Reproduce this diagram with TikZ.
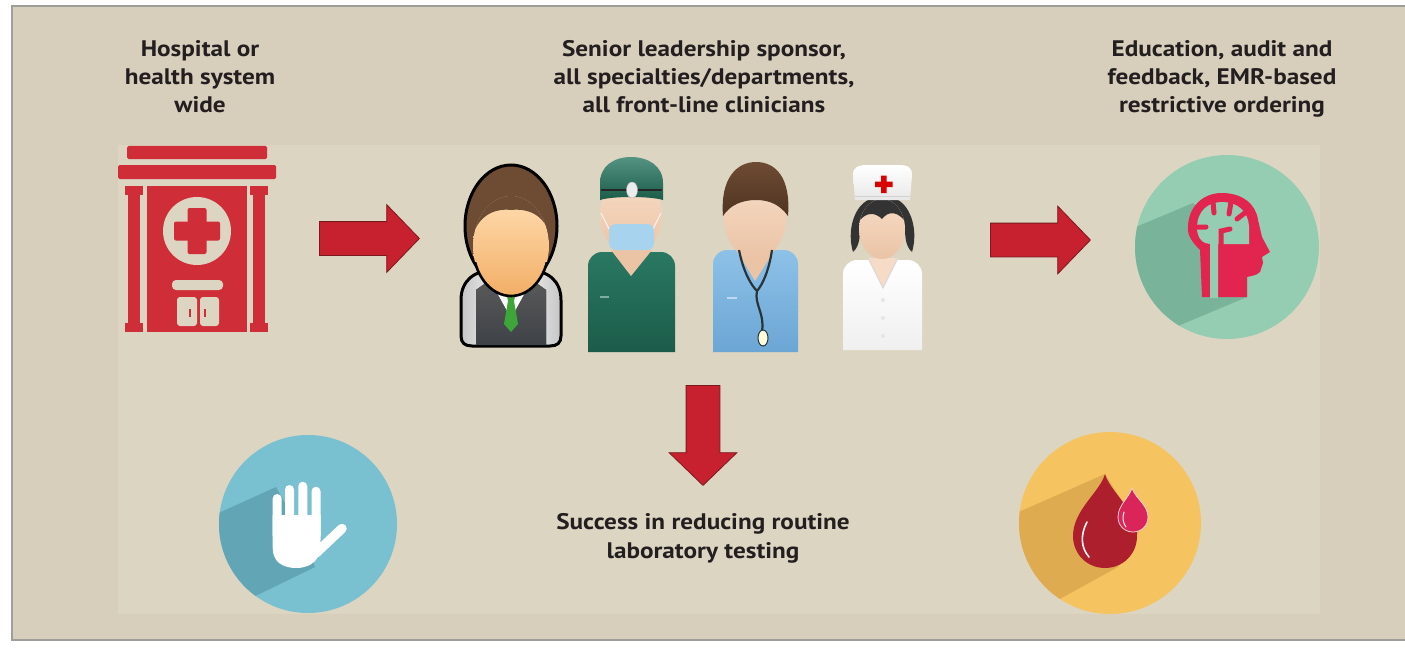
\documentclass[tikz,border=0pt]{standalone}
\usepackage{fontspec}
\setmainfont[FakeStretch=1.12]{PT Sans}
\usetikzlibrary{shapes.arrows}

\definecolor{bgout}{HTML}{D7CEBB}
\definecolor{bgin}{HTML}{DCD5C2}
\definecolor{framegray}{HTML}{9E9E98}
\definecolor{ink}{HTML}{231F20}
\definecolor{arrowred}{HTML}{C7202F}
\definecolor{arrowedge}{HTML}{7A1A1E}
\definecolor{hosp}{HTML}{CF2D37}
\definecolor{mint}{HTML}{95CDB3}
\definecolor{mintshade}{HTML}{79B39A}
\definecolor{headpink}{HTML}{E1254F}
\definecolor{skyblue}{HTML}{79C0D0}
\definecolor{skyshade}{HTML}{62A6B6}
\definecolor{sun}{HTML}{F5C35F}
\definecolor{sunshade}{HTML}{DFAB51}
\definecolor{dropdark}{HTML}{AE1F2D}
\definecolor{droppink}{HTML}{D9255A}
\definecolor{skinA}{HTML}{FFDDB0}
\definecolor{skinB}{HTML}{F2AE66}
\definecolor{skinC}{HTML}{F6DCC6}
\definecolor{skinD}{HTML}{EBC3A5}
\definecolor{hairbrown}{HTML}{6E4B33}
\definecolor{hairdark}{HTML}{4F3422}
\definecolor{scrubA}{HTML}{2A7862}
\definecolor{scrubB}{HTML}{1B5C49}
\definecolor{coatA}{HTML}{8DC1E7}
\definecolor{coatB}{HTML}{6CA6D5}
\definecolor{maskblue}{HTML}{A8D3EE}
\definecolor{steth}{HTML}{27343A}
\definecolor{vest}{HTML}{3E4247}
\definecolor{tiegreen}{HTML}{3EA53A}

\tikzset{
  lbl/.style={font=\bfseries\fontsize{22.5}{28.3}\selectfont, text=ink,
    align=center, inner sep=0pt, anchor=base},
  bigarrow/.style={single arrow, fill=arrowred, draw=arrowedge, line width=0.8pt,
    inner xsep=0pt, inner ysep=16.5pt, single arrow head extend=17pt,
    single arrow tip angle=92, single arrow head indent=0pt,
    minimum height=100pt, anchor=tail},
  downarrow/.style={bigarrow, shape border rotate=270, inner xsep=16.5pt, inner ysep=0pt},
  hospfill/.style={fill=hosp},
  tanfill/.style={fill=bgin},
}

\begin{document}
\begin{tikzpicture}[x=1pt,y=-1pt]
\useasboundingbox (0,0) rectangle (1405,650);
\fill[white] (0,0) rectangle (1405,650);
\clip (0,0) rectangle (1405,650);

% panel
\filldraw[fill=bgout, draw=framegray, line width=2pt] (12,6) rectangle (1425,640);
\fill[bgin] (118,145) rectangle (1320,614);

% ---- captions (anchored at the baseline of the last line)
\node[lbl] (tHosp) at (200,113) {Hospital or\\health system\\wide};
\node[lbl] (tStaff) at (704,113) {Senior leadership sponsor,\\all specialties/departments,\\all front-line clinicians};
\node[lbl] (tTools) at (1222,113) {Education, audit and\\feedback, EMR-based\\restrictive ordering};
\node[lbl] (tResult) at (703,558) {Success in reducing routine\\laboratory testing};

% ---- hospital building
\begin{scope}
\fill[hospfill, rounded corners=1.5pt] (127,146) rectangle (267,159);
\fill[hospfill, rounded corners=1.5pt] (118,165) rectangle (276,179);
\fill[hospfill] (125,186) rectangle (143,195);
\fill[hospfill] (128,186) rectangle (140,332);
\fill[hospfill] (125,323) rectangle (143,332);
\fill[hospfill] (250,186) rectangle (268,195);
\fill[hospfill] (253,186) rectangle (265,332);
\fill[hospfill] (250,323) rectangle (268,332);
\fill[hospfill] (147,186) rectangle (247,332);
\fill[tanfill] (197,231) circle (34);
\fill[hospfill, rounded corners=2pt] (187.5,208) rectangle (206.5,254);
\fill[hospfill, rounded corners=2pt] (174,221.5) rectangle (220,240.5);
\fill[tanfill, rounded corners=4pt] (172,280) rectangle (223,290);
\fill[tanfill, rounded corners=3pt] (177,297) rectangle (197,326);
\fill[tanfill, rounded corners=3pt] (200,297) rectangle (219,326);
\draw[hosp, line width=1.6pt] (190,309) -- (190,317) (205,309) -- (205,317);
\end{scope}
\node[inner sep=0pt, minimum width=158pt, minimum height=186pt] (hospital) at (197,239) {};

% ---- staff: manager
\begin{scope}
\path[draw=black, line width=3pt, left color=gray!45, right color=gray!45, middle color=white]
  (461,336) -- (461,300) .. controls (461,280) and (475,270) .. (495,270) -- (527,270)
  .. controls (547,270) and (561,280) .. (561,300) -- (561,336)
  .. controls (561,343) and (557,346) .. (550,346) -- (472,346)
  .. controls (465,346) and (461,343) .. (461,336) -- cycle;
\fill[top color=gray!70!black, bottom color=vest] (476,345) -- (476,290) -- (490,280) -- (511,318) -- (532,280) -- (546,290) -- (546,345) -- cycle;
\fill[white] (490,280) -- (511,318) -- (532,280) -- cycle;
\fill[tiegreen] (506,292) -- (516,292) -- (514,301) -- (508,301) -- cycle;
\fill[tiegreen] (508,301) -- (514,301) -- (518,324) -- (511,332) -- (504,324) -- cycle;
\filldraw[draw=black, line width=3pt, fill=hairbrown] (511,226) ellipse (46 and 61);
\fill[top color=skinA, bottom color=skinB] (511,246) ellipse (38 and 50);
\begin{scope}
  \clip (511,246) ellipse (38 and 50);
  \fill[hairbrown] (471,244) .. controls (475,216) and (494,208) .. (511,210)
    .. controls (530,208) and (548,216) .. (552,244) -- (552,190) -- (471,190) -- cycle;
\end{scope}
\begin{scope}
  \clip (440,262) rectangle (580,320);
  \draw[black, line width=2.6pt] (511,246) ellipse (38 and 50);
\end{scope}
\end{scope}
\node[inner sep=0pt, minimum width=104pt, minimum height=184pt] (manager) at (511,255) {};

% ---- staff: surgeon
\begin{scope}
\shade[top color=scrubA, bottom color=scrubB] (588,352) -- (588,266) [rounded corners=14pt] -- (588,252) -- (675,252) [sharp corners] -- (675,266) -- (675,352) -- cycle;
\fill[skinD] (611,250) -- (631,276) -- (652,250) -- cycle;
\draw[scrubA!60!white, line width=1.5pt] (600,297) -- (609,297);
\shade[top color=skinC, bottom color=skinD] (631,215) ellipse (31 and 40);
\draw[white!92!gray, line width=1pt] (609,229) -- (601,213) (653,229) -- (661,213);
\fill[maskblue, rounded corners=7pt] (609,224) rectangle (654,250);
\shade[top color=scrubA!80!white, bottom color=scrubB] (600,200) -- (600,183) .. controls (600,166) and (614,157) .. (631,157)
  .. controls (648,157) and (663,166) .. (663,183) -- (663,200) .. controls (650,196) and (612,196) .. (600,200) -- cycle;
\draw[black!85, line width=2.5pt] (601,190) -- (662,190);
\filldraw[fill=gray!15, draw=gray!60] (632,190) ellipse (5.5 and 8);
\end{scope}
\node[inner sep=0pt, minimum width=88pt, minimum height=195pt] (surgeon) at (631,254) {};

% ---- staff: physician
\begin{scope}
\shade[top color=coatA, bottom color=coatB] (713,352) -- (713,264) [rounded corners=14pt] -- (713,250) -- (798,250) [sharp corners] -- (798,264) -- (798,352) -- cycle;
\fill[skinD] (735,248) -- (755,281) -- (776,248) -- cycle;
\draw[coatA!60!white, line width=1.5pt] (727,298) -- (737,298);
\shade[top color=skinC, bottom color=skinD] (755,217) ellipse (31 and 42);
\shade[top color=hairbrown, bottom color=hairdark] (723,216) .. controls (720,178) and (737,162) .. (756,162)
  .. controls (776,162) and (791,178) .. (788,216) .. controls (780,205) and (770,200) .. (756,200)
  .. controls (742,200) and (730,205) .. (723,216) -- cycle;
\draw[steth, line width=2.2pt] (739,250) .. controls (743,270) and (750,284) .. (757,291)
  (772,250) .. controls (769,270) and (763,284) .. (757,291)
  .. controls (754,304) and (765,314) .. (762,331);
\filldraw[fill=white!85!yellow, draw=steth, line width=1pt] (763,338) ellipse (5 and 8);
\end{scope}
\node[inner sep=0pt, minimum width=86pt, minimum height=190pt] (physician) at (755,257) {};

% ---- staff: nurse
\begin{scope}
\shade[top color=white, bottom color=gray!12] (843,350) -- (843,272) [rounded corners=14pt] -- (843,260) -- (922,260) [sharp corners] -- (922,272) -- (922,350) -- cycle;
\fill[black!80] (853,252) .. controls (847,232) and (853,208) .. (868,200) -- (898,200)
  .. controls (912,208) and (918,232) .. (912,252) .. controls (905,246) and (905,235) .. (905,226)
  -- (860,226) .. controls (860,235) and (860,246) .. (853,252) -- cycle;
\fill[skinC] (868,258) -- (883,288) -- (898,258) -- cycle;
\draw[gray!30, line width=1pt] (868,258) -- (883,288) -- (898,258);
\shade[top color=skinC, bottom color=skinD] (882,229) ellipse (23 and 30);
\begin{scope}
  \clip (882,229) ellipse (23 and 30);
  \fill[black!80] (857,198) -- (857,224) .. controls (866,210) and (876,213) .. (882,219)
    .. controls (888,211) and (898,210) .. (907,224) -- (907,198) -- cycle;
\end{scope}
\foreach \yy in {300,318,336} \fill[gray!20] (883,\yy) circle (2);
\shade[top color=white, bottom color=gray!18] (855,200) -- (853,175) .. controls (853,167) and (858,165) .. (868,165)
  -- (898,165) .. controls (908,165) and (912,167) .. (912,175) -- (910,200) -- cycle;
\draw[gray!35, line width=0.8pt] (855,196) -- (910,196);
\fill[red!85!black] (881,175.5) rectangle (886.5,193) (875,181.5) rectangle (892.5,187);
\end{scope}
\node[inner sep=0pt, minimum width=80pt, minimum height=185pt] (nurse) at (882,257) {};

% ---- brain icon
\fill[mint] (1227,247) circle (92);
\begin{scope}
  \clip (1227,247) circle (92);
  \fill[mintshade] (1193,203) -- (1043,266) -- (1097,360) -- (1247,297) -- (1247,250) -- cycle;
\end{scope}
\fill[headpink] (1202,297) -- (1200,250) .. controls (1192,242) and (1187,235) .. (1188,227)
  .. controls (1188,210) and (1200,193) .. (1222,193) .. controls (1242,193) and (1256,204) .. (1258,220)
  -- (1262,237) -- (1270,252) -- (1262,257) -- (1263,263) -- (1260,272)
  .. controls (1256,276) and (1250,276) .. (1247,277) -- (1247,297) -- cycle;
\fill[mint] (1197,228) .. controls (1197,211) and (1208,202) .. (1222,202)
  .. controls (1237,202) and (1248,211) .. (1249,226) -- (1249,244) -- (1218,244)
  -- (1218,298) -- (1210,298) -- (1210,244) .. controls (1203,244) and (1197,238) .. (1197,228) -- cycle;
\draw[headpink, line width=5pt, line cap=round]
  (1213,202) -- (1214,213) (1231,202) -- (1229,214) (1246,212) -- (1237,219)
  (1197,227) -- (1206,227) (1221,244) -- (1221,231) -- (1230,229);
\node[inner sep=0pt, circle, minimum size=184pt] (brain) at (1227,247) {};

% ---- hand icon
\fill[skyblue] (308,524) circle (89);
\begin{scope}
  \clip (308,524) circle (89);
  \fill[skyshade] (276,487) -- (126,555) -- (165,640) -- (315,567) -- (300,530) -- cycle;
\end{scope}
\begin{scope}[white]
\fill[rounded corners=4.5pt] (272.7,494) rectangle (281.7,540);
\fill[rounded corners=4.5pt] (285,485) rectangle (294,540);
\fill[rounded corners=4.5pt] (298.3,481.7) rectangle (307.3,540);
\fill[rounded corners=4.5pt] (311.5,486.7) rectangle (320.5,540);
\fill (272.7,515) -- (272.7,548) .. controls (272.7,562) and (283,568) .. (296,568)
  .. controls (308,568) and (315,563) .. (319,555) -- (320.5,540) -- (320.5,515) -- cycle;
\draw[line width=9.5pt, line cap=round] (316,553) -- (342,528.5);
\end{scope}
\node[inner sep=0pt, circle, minimum size=178pt] (hand) at (308,524) {};

% ---- blood drop icon
\fill[sun] (1110,523) circle (91);
\begin{scope}
  \clip (1110,523) circle (91);
  \fill[sunshade] (1105,474) -- (955,540) -- (985,640) -- (1118,567) -- (1140,530) -- cycle;
\end{scope}
\fill[dropdark] (1105,474) .. controls (1100,492) and (1073,510) .. (1073,536)
  .. controls (1073,554) and (1087,568) .. (1105,568) .. controls (1123,568) and (1137,554) .. (1137,536)
  .. controls (1137,510) and (1110,492) .. (1105,474) -- cycle;
\draw[white!85!pink, line width=1.6pt, line cap=round] (1087,522) .. controls (1080,535) and (1081,548) .. (1089,557);
\filldraw[fill=droppink, draw=pink!70!white, line width=0.8pt] (1132,488) .. controls (1129,498) and (1118,505) .. (1118,517)
  .. controls (1118,526) and (1125,532) .. (1133,532) .. controls (1141,532) and (1148,526) .. (1148,517)
  .. controls (1148,505) and (1135,498) .. (1132,488) -- cycle;
\draw[white!80!pink, line width=1pt, line cap=round] (1124,512) .. controls (1122,518) and (1123,523) .. (1126,527);
\node[inner sep=0pt, circle, minimum size=182pt] (drops) at (1110,523) {};

% ---- arrows
\node[bigarrow] (arrA) at (319,238.5) {};
\node[bigarrow] (arrB) at (990,240) {};
\node[downarrow] (arrC) at (703,385) {};
\end{tikzpicture}
\end{document}
